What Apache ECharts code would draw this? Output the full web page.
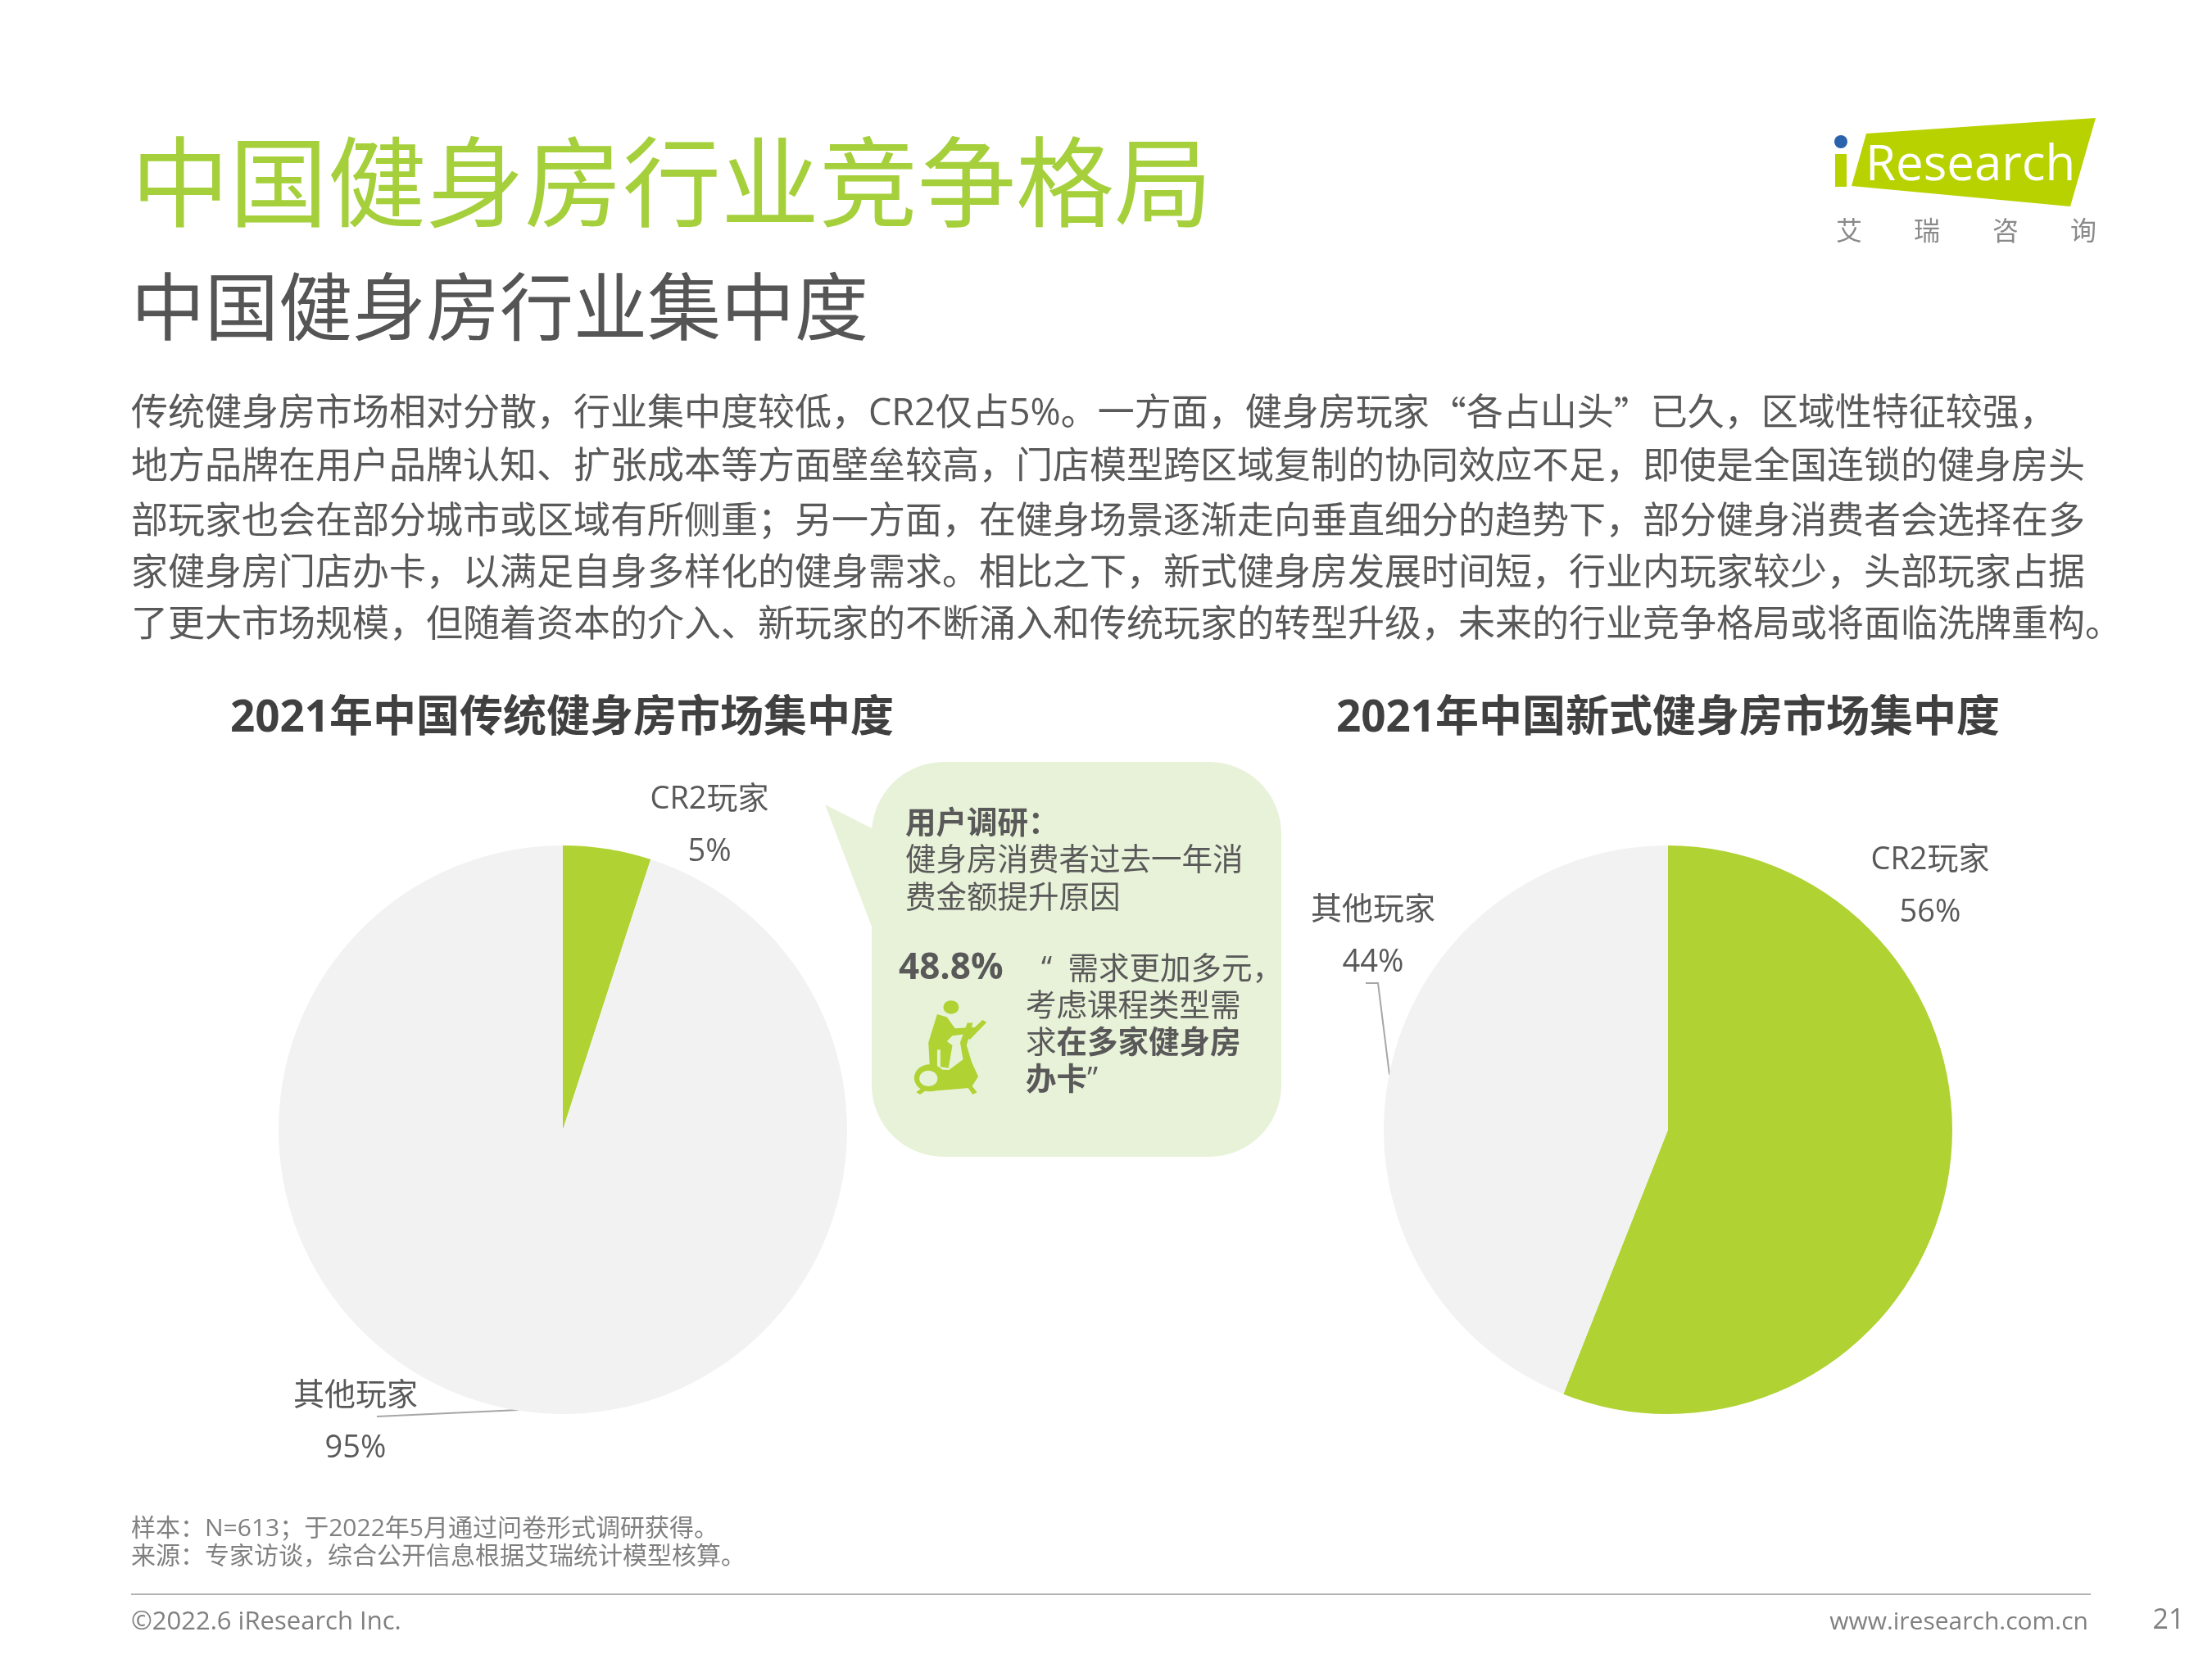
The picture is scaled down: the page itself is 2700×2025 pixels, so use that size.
<!DOCTYPE html>
<html>
<head>
<meta charset="utf-8">
<title>中国健身房行业竞争格局</title>
<script src="https://cdn.jsdelivr.net/npm/echarts@6/dist/echarts.min.js"></script>
<style>
  html, body { margin: 0; padding: 0; background: #fff; }
  #chart { width: 2700px; height: 2025px; }
</style>
</head>
<body>
<div id="chart"></div>
<script>
// 数据
const playerNames = ['CR2玩家', '其他玩家']
const traditionalShare = [5, 95]
const newStyleShare = [56, 44]

// 文案
const mainTitle = '中国健身房行业竞争格局'
const subTitle = '中国健身房行业集中度'
const bodyLines = [
  '传统健身房市场相对分散,行业集中度较低,CR2仅占5%。一方面,健身房玩家{q|“}各占山头{q|”}已久,区域性特征较强,',
  '地方品牌在用户品牌认知、扩张成本等方面壁垒较高,门店模型跨区域复制的协同效应不足,即使是全国连锁的健身房头',
  '部玩家也会在部分城市或区域有所侧重;另一方面,在健身场景逐渐走向垂直细分的趋势下,部分健身消费者会选择在多',
  '家健身房门店办卡,以满足自身多样化的健身需求。相比之下,新式健身房发展时间短,行业内玩家较少,头部玩家占据',
  '了更大市场规模,但随着资本的介入、新玩家的不断涌入和传统玩家的转型升级,未来的行业竞争格局或将面临洗牌重构。'
]
const bodyLineY = [506, 571, 638, 701, 764]
const leftPieTitle = '2021年中国传统健身房市场集中度'
const rightPieTitle = '2021年中国新式健身房市场集中度'
const noteLines = [
  '样本\uFF1AN=613\uFF1B于2022年5月通过问卷形式调研获得。',
  '来源\uFF1A专家访谈\uFF0C综合公开信息根据艾瑞统计模型核算。'
]

const FONT = '"Open Sans", "Noto Sans CJK SC", sans-serif'
const GREEN = '#b0d232'
const GREY = '#f2f2f2'
const TEXT = '#595959'

const chart = echarts.init(document.getElementById('chart'))

// 半角标点换成全角
const fullWidth = (s) => s.replace(/,/g, '\uFF0C').replace(/;/g, '\uFF1B').replace(/:/g, '\uFF1A')

// 文字元素
const txt = (x, y, text, size, fill, extra = {}) => ({
  type: 'text',
  x,
  y,
  silent: true,
  style: Object.assign({
    text,
    fill,
    fontSize: size,
    fontFamily: FONT,
    verticalAlign: 'middle'
  }, extra)
})

const poly = (points, fill) => ({
  type: 'polygon',
  silent: true,
  shape: { points },
  style: { fill }
})

const leader = (points) => ({
  type: 'polyline',
  silent: true,
  shape: { points },
  style: { stroke: '#a6a6a6', lineWidth: 2, fill: 'none' }
})

// 椭圆机图标
const iconGroup = {
  type: 'group',
  x: 980,
  y: 900,
  scaleX: 0.395,
  scaleY: 0.345,
  silent: true,
  children: [
    { type: 'circle', shape: { cx: 458, cy: 955, r: 24 }, style: { fill: GREEN } },
    poly([[415, 980], [445, 990], [470, 1030], [535, 1025], [535, 1045], [462, 1056], [445, 1075], [462, 1090], [450, 1170], [425, 1165], [425, 1105], [415, 1105], [415, 1165], [392, 1165], [388, 1080]], GREEN),
    poly([[430, 1195], [495, 1140], [486, 1080], [508, 1010], [525, 1010], [506, 1090], [522, 1150], [542, 1200], [520, 1240], [390, 1252]], GREEN),
    poly([[505, 1055], [555, 1000], [568, 1008], [515, 1070]], GREEN),
    { type: 'circle', shape: { cx: 392, cy: 1205, r: 48 }, style: { fill: GREEN } },
    { type: 'circle', shape: { cx: 388, cy: 1207, r: 28 }, style: { fill: '#e8f2d9' } },
    poly([[350, 1255], [372, 1238], [382, 1248], [362, 1264]], GREEN),
    poly([[510, 1240], [522, 1232], [538, 1256], [525, 1264]], GREEN),
    poly([[425, 1175], [470, 1178], [465, 1195], [428, 1192]], GREEN)
  ]
}

const graphics = [
  // 标题
  txt(160, 234, mainTitle, 120, '#a5d03c'),
  txt(160, 382, subTitle, 90, '#555555'),
  ...bodyLines.map((line, i) => txt(160, bodyLineY[i], fullWidth(line.replace('{q|“}', '\u0001').replace('{q|”}', '\u0002')).replace('\u0001', '{q|“}').replace('\u0002', '{q|”}'), 45, TEXT, {
    rich: { q: { fontFamily: '"Noto Sans CJK SC"', fontSize: 45, fill: TEXT } }
  })),
  // 饼图标题
  txt(686, 878, leftPieTitle, 53, '#404040', { fontWeight: 'bold', align: 'center' }),
  txt(2036, 878, rightPieTitle, 53, '#404040', { fontWeight: 'bold', align: 'center' }),
  // 引导线
  leader([[460, 1729], [633, 1721]]),
  leader([[1667, 1200], [1682, 1200], [1696, 1312]]),
  // 气泡
  { type: 'rect', silent: true, shape: { x: 1064, y: 930, width: 500, height: 482, r: 88 }, style: { fill: '#e8f2d9' } },
  poly([[1007, 982], [1066, 1012], [1066, 1136]], '#e8f2d9'),
  txt(1105, 1006, '用户调研\uFF1A', 37.5, TEXT, { fontWeight: 'bold' }),
  txt(1105, 1051, '健身房消费者过去一年消', 37.5, TEXT),
  txt(1105, 1097, '费金额提升原因', 37.5, TEXT),
  txt(1097, 1182, '48.8%', 44, TEXT, { fontWeight: 'bold' }),
  txt(1271, 1184, '“  需求更加多元\uFF0C', 37.5, TEXT),
  txt(1252, 1229, '考虑课程类型需', 37.5, TEXT),
  {
    type: 'text',
    x: 1252,
    y: 1274,
    silent: true,
    style: {
      text: '求{b|在多家健身房}',
      fill: TEXT,
      fontSize: 37.5,
      fontFamily: FONT,
      verticalAlign: 'middle',
      rich: { b: { fontWeight: 'bold', fontSize: 37.5, fontFamily: FONT, fill: TEXT } }
    }
  },
  {
    type: 'text',
    x: 1252,
    y: 1319,
    silent: true,
    style: {
      text: '{b|办卡}”',
      fill: TEXT,
      fontSize: 37.5,
      fontFamily: FONT,
      verticalAlign: 'middle',
      rich: { b: { fontWeight: 'bold', fontSize: 37.5, fontFamily: FONT, fill: TEXT } }
    }
  },
  iconGroup,
  // logo
  poly([[2278, 163], [2558, 144], [2527, 252], [2260, 227]], '#b8d200'),
  { type: 'rect', silent: true, shape: { x: 2240, y: 188, width: 14, height: 40 }, style: { fill: '#b8d200' } },
  { type: 'circle', silent: true, shape: { cx: 2247, cy: 173, r: 8 }, style: { fill: '#2a62ae' } },
  txt(2277, 203, 'Research', 60, '#ffffff'),
  txt(2257, 284, '艾', 32, '#8a8a8a', { align: 'center' }),
  txt(2352, 284, '瑞', 32, '#8a8a8a', { align: 'center' }),
  txt(2448, 284, '咨', 32, '#8a8a8a', { align: 'center' }),
  txt(2543, 284, '询', 32, '#8a8a8a', { align: 'center' }),
  // 页脚
  txt(160, 1866, noteLines[0], 30, '#808080'),
  txt(160, 1900, noteLines[1], 30, '#808080'),
  { type: 'line', silent: true, shape: { x1: 160, y1: 1946, x2: 2552, y2: 1946 }, style: { stroke: '#b3b3b3', lineWidth: 2 } },
  txt(160, 1980, '©2022.6 iResearch Inc.', 31, '#808080'),
  txt(2549, 1980, 'www.iresearch.com.cn', 30, '#808080', { align: 'right' }),
  txt(2647, 1978, '21', 34, '#808080', { align: 'center' })
]

// 饼图系列
const pieSeries = (values, center, labelPos) => ({
  type: 'pie',
  radius: [0, 347],
  center,
  startAngle: 90,
  clockwise: true,
  silent: true,
  animation: false,
  data: values.map((v, i) => ({
    value: v,
    name: playerNames[i],
    itemStyle: { color: i === 0 ? GREEN : GREY }
  })),
  label: {
    show: true,
    position: 'outside',
    formatter: '{b}\n{c}%',
    fontSize: 38,
    lineHeight: 64,
    color: TEXT,
    fontFamily: FONT,
    align: 'center'
  },
  labelLine: { show: false },
  labelLayout: (params) => ({
    x: labelPos[params.dataIndex][0],
    y: labelPos[params.dataIndex][1],
    align: 'center',
    verticalAlign: 'middle'
  })
})

chart.setOption({
  backgroundColor: '#ffffff',
  animation: false,
  series: [
    pieSeries(traditionalShare, [687, 1379], [[866, 1008], [434, 1736]]),
    pieSeries(newStyleShare, [2036, 1379], [[2356, 1082], [1676, 1143]])
  ],
  graphic: { elements: graphics }
})

window.addEventListener('resize', () => chart.resize())
</script>
</body>
</html>
